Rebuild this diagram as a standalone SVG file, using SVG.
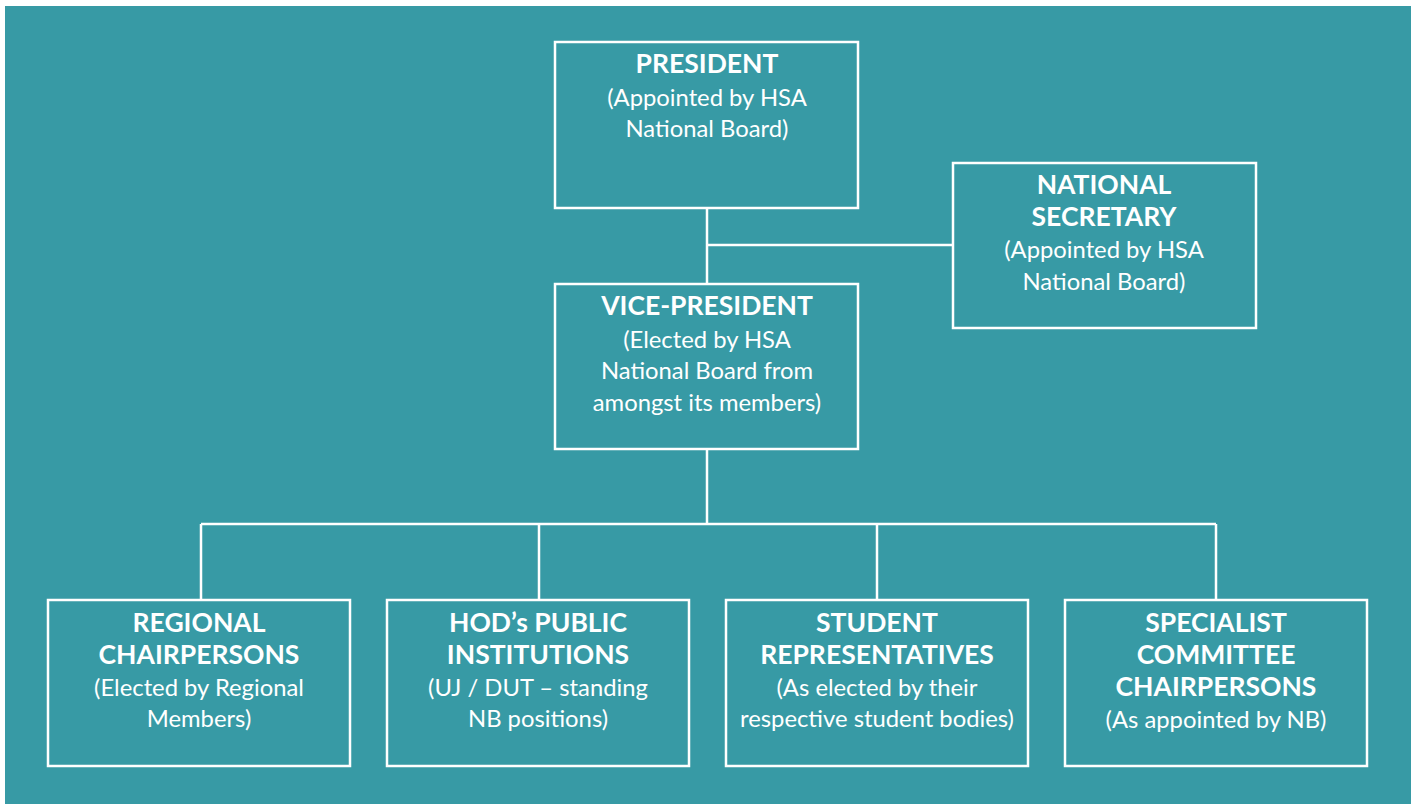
<svg xmlns="http://www.w3.org/2000/svg" width="1415" height="804" viewBox="0 0 1415 804">
<style>
.bg{fill:#379AA5}
.box{fill:none;stroke:#fff;stroke-width:2.5}
.ln{fill:none;stroke:#fff;stroke-width:2.5}
text{font-family:Lato,"Liberation Sans",sans-serif;fill:#fff;text-anchor:middle}
.t{font-weight:bold;font-size:26.5px}
.s{font-size:23.8px}
</style>
<rect width="1415" height="804" fill="#fff"/>
<rect class="bg" x="5" y="6" width="1406" height="798"/>
<g id="connectors">
<path class="ln" d="M707 208V284M707 245H953M707 449V524M201 524H1216M201 524V600M539 524V600M877 524V600M1216 524V600"/>
</g>
<g id="president">
<rect class="box" x="555" y="42" width="303" height="166"/>
<text class="t" x="707" y="73">PRESIDENT</text>
<text class="s" x="707" y="106">(Appointed by HSA</text>
<text class="s" x="707" y="137">National Board)</text>
</g>
<g id="secretary">
<rect class="box" x="953" y="163" width="303" height="165"/>
<text class="t" x="1104" y="194">NATIONAL</text>
<text class="t" x="1104" y="226">SECRETARY</text>
<text class="s" x="1104" y="258">(Appointed by HSA</text>
<text class="s" x="1104" y="290">National Board)</text>
</g>
<g id="vice-president">
<rect class="box" x="555" y="284" width="303" height="165"/>
<text class="t" x="707" y="315">VICE-PRESIDENT</text>
<text class="s" x="707" y="348">(Elected by HSA</text>
<text class="s" x="707" y="379">National Board from</text>
<text class="s" x="707" y="411">amongst its members)</text>
</g>
<g id="regional">
<rect class="box" x="48" y="600" width="302" height="166"/>
<text class="t" x="199" y="632">REGIONAL</text>
<text class="t" x="199" y="664">CHAIRPERSONS</text>
<text class="s" x="199" y="696">(Elected by Regional</text>
<text class="s" x="199" y="727">Members)</text>
</g>
<g id="hod">
<rect class="box" x="387" y="600" width="302" height="166"/>
<text class="t" x="538" y="632">HOD’s PUBLIC</text>
<text class="t" x="538" y="664">INSTITUTIONS</text>
<text class="s" x="538" y="696">(UJ / DUT – standing</text>
<text class="s" x="538" y="727">NB positions)</text>
</g>
<g id="student">
<rect class="box" x="726" y="600" width="302" height="166"/>
<text class="t" x="877" y="632">STUDENT</text>
<text class="t" x="877" y="664">REPRESENTATIVES</text>
<text class="s" x="877" y="696">(As elected by their</text>
<text class="s" x="877" y="727">respective student bodies)</text>
</g>
<g id="specialist">
<rect class="box" x="1065" y="600" width="302" height="166"/>
<text class="t" x="1216" y="632">SPECIALIST</text>
<text class="t" x="1216" y="664">COMMITTEE</text>
<text class="t" x="1216" y="696">CHAIRPERSONS</text>
<text class="s" x="1216" y="728">(As appointed by NB)</text>
</g>
</svg>
